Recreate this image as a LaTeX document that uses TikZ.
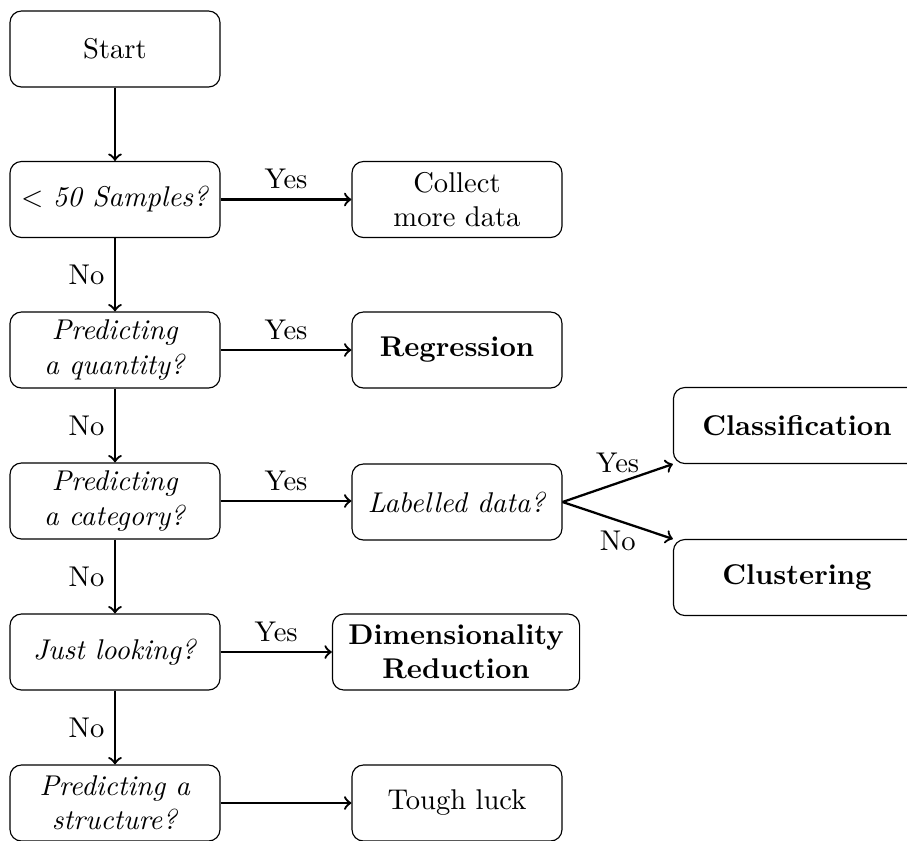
\documentclass[tikz,border=0pt]{standalone}
\tikzset{
  box/.style={draw, rounded corners=4pt, align=center, inner sep=2pt,
              minimum width=73.5pt, minimum height=26.6pt},
  widebox/.style={box, minimum width=86.5pt},
  flow/.style={->, thick},
}
\begin{document}
\begin{tikzpicture}[x=0.35pt, y=-0.35pt]
\useasboundingbox (0,0) rectangle (907,840);
\clip (0,0) rectangle (907,840);

% decision column
\node[box] (start)    at (115,49)    {Start};
\node[box] (samples)  at (115,199.5) {$<$ \textit{50 Samples?}};
\node[box] (quantity) at (115,350)   {\textit{Predicting}\\\textit{a quantity?}};
\node[box] (category) at (115,501)   {\textit{Predicting}\\\textit{a category?}};
\node[box] (looking)  at (115,652)   {\textit{Just looking?}};
\node[box] (struct)   at (115,803)   {\textit{Predicting a}\\\textit{structure?}};

% outcomes
\node[box] (collect)  at (457,199.5) {Collect\\more data};
\node[box] (regr)     at (457,350)   {\textbf{Regression}};
\node[box] (labelled) at (457,502)   {\textit{Labelled data?}};
\node[widebox] (dimred) at (456,652) {\textbf{Dimensionality}\\\textbf{Reduction}};
\node[box] (tough)    at (457,803)   {Tough luck};
\node[widebox] (classif) at (797,425.5) {\textbf{Classification}};
\node[widebox] (cluster) at (797,577.5) {\textbf{Clustering}};

% vertical chain
\draw[flow] (start) -- (samples);
\draw[flow] (samples)  -- node[left] {No} (quantity);
\draw[flow] (quantity) -- node[left] {No} (category);
\draw[flow] (category) -- node[left] {No} (looking);
\draw[flow] (looking)  -- node[left] {No} (struct);

% horizontal branches
\draw[flow] (samples)  -- node[above] {Yes} (collect);
\draw[flow] (quantity) -- node[above] {Yes} (regr);
\draw[flow] (category.east) -- node[above] {Yes} (labelled.west |- category.east);
\draw[flow] (looking)  -- node[above] {Yes} (dimred);
\draw[flow] (struct)   -- (tough);

% labelled data split
\draw[flow] (labelled.east) -- node[above] {Yes} (classif.south west);
\draw[flow] (labelled.east) -- node[below] {No} (cluster.north west);
\end{tikzpicture}
\end{document}
